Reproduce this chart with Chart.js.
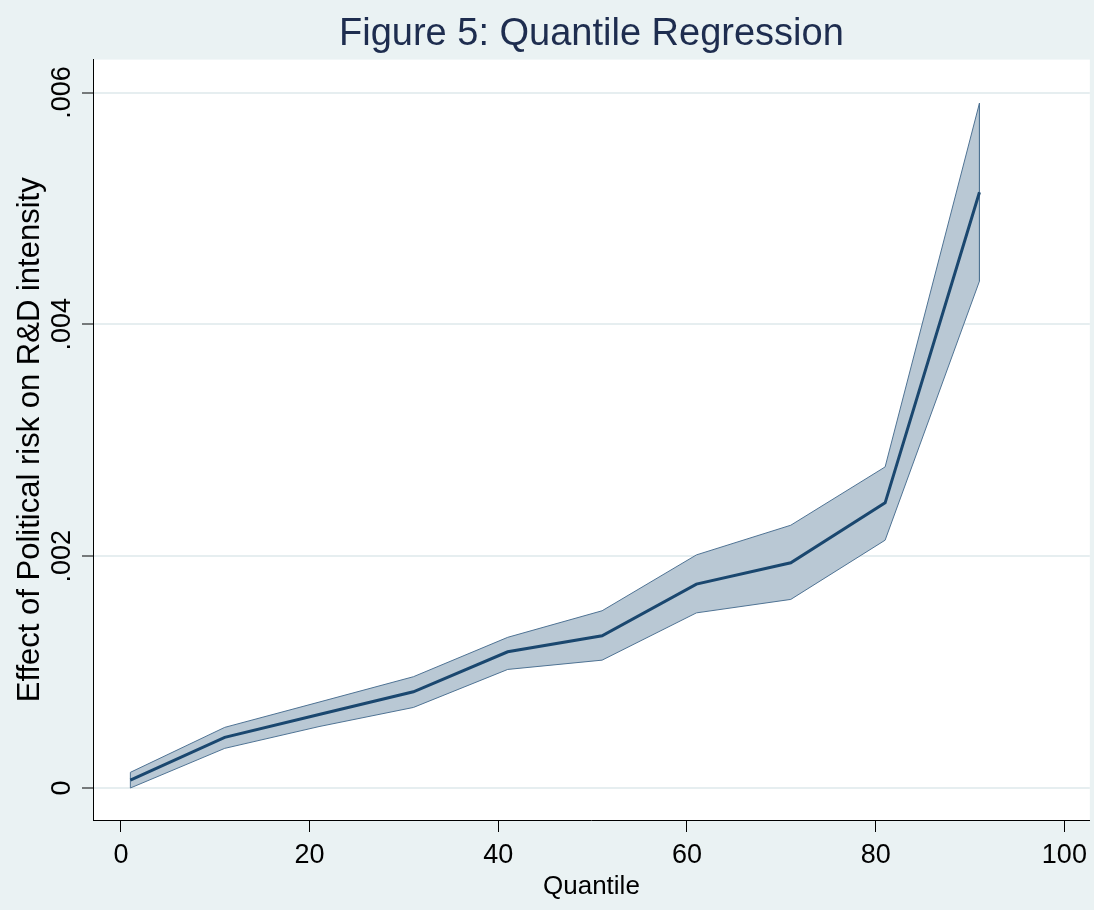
<!DOCTYPE html>
<html>
<head>
<meta charset="utf-8">
<script src="https://cdn.jsdelivr.net/npm/chart.js@4.4.1/dist/chart.umd.min.js"></script>
<style>
  body { margin: 0; background: #eaf2f3; }
  canvas { display: block; }
</style>
</head>
<body>
<canvas id="qrChart" width="1094" height="910"></canvas>
<script>
const quantiles = [1, 11, 21, 31, 41, 51, 61, 71, 81, 91];
const estimate = [0.000069, 0.000437, 0.000634, 0.00083, 0.001175, 0.001313, 0.001759, 0.001943, 0.00246, 0.00514];
const upperCI = [0.000135, 0.000523, 0.000741, 0.00096, 0.0013, 0.001529, 0.002011, 0.002267, 0.00277, 0.005908];
const lowerCI = [0.0, 0.000342, 0.00053, 0.000695, 0.001023, 0.001103, 0.001511, 0.001627, 0.002138, 0.004373];

const xTicks = [0, 20, 40, 60, 80, 100];
const yTickValues = [0, 0.002, 0.004, 0.006];
const yTickLabels = ["0", ".002", ".004", ".006"];

const fontFamily = "'Liberation Sans', Arial, sans-serif";

// band polygon: upper forward, lower backward, closed
const bandPoints = quantiles
  .map((q, i) => ({ x: q, y: upperCI[i] }))
  .concat(quantiles.map((q, i) => ({ x: q, y: lowerCI[i] })).reverse());
bandPoints.push(bandPoints[0]);

const background = {
  id: "background",
  beforeDraw(chart) {
    const { ctx, chartArea } = chart;
    ctx.save();
    ctx.fillStyle = "#eaf2f3";
    ctx.fillRect(0, 0, chart.width, chart.height);
    ctx.fillStyle = "#ffffff";
    ctx.fillRect(chartArea.left, chartArea.top, chartArea.right - chartArea.left, chartArea.bottom - chartArea.top);
    ctx.restore();
  },
};

new Chart(document.getElementById("qrChart").getContext("2d"), {
  type: "line",
  data: {
    datasets: [
      {
        label: "Estimate",
        data: quantiles.map((q, i) => ({ x: q, y: estimate[i] })),
        borderColor: "#1a476f",
        borderWidth: 3,
        pointRadius: 0,
        tension: 0,
        fill: false,
        order: 0,
      },
      {
        label: "95% CI",
        data: bandPoints,
        borderColor: "#4f7394",
        borderWidth: 1,
        backgroundColor: "rgb(185, 200, 212)",
        pointRadius: 0,
        tension: 0,
        fill: "shape",
        order: 1,
      },
    ],
  },
  options: {
    responsive: false,
    animation: false,
    layout: { padding: { left: 0, right: 2, top: 0, bottom: 0 } },
    plugins: {
      legend: { display: false },
      tooltip: { enabled: false },
      title: {
        display: true,
        fullSize: false,
        text: "Figure 5: Quantile Regression",
        color: "#1e2d4f",
        font: { family: fontFamily, size: 38, weight: "normal" },
        padding: { top: 12, bottom: 2 },
      },
    },
    scales: {
      x: {
        type: "linear",
        min: -2.96,
        max: 102.7,
        afterBuildTicks: (s) => { s.ticks = xTicks.map((v) => ({ value: v })); },
        afterFit: (s) => { s.height = 90; },
        border: { display: true, color: "#000", width: 1 },
        grid: { drawOnChartArea: false, drawTicks: true, tickLength: 12, tickColor: "#000", tickWidth: 1 },
        ticks: {
          color: "#000",
          padding: 7,
          maxRotation: 0,
          autoSkip: false,
          font: { family: fontFamily, size: 27 },
        },
        title: {
          display: true,
          text: "Quantile",
          color: "#000",
          font: { family: fontFamily, size: 26 },
          padding: { top: 0, bottom: 8 },
        },
      },
      y: {
        type: "linear",
        min: -0.000276,
        max: 0.006284,
        afterBuildTicks: (s) => { s.ticks = yTickValues.map((v) => ({ value: v })); },
        afterFit: (s) => { s.width = 93; },
        border: { display: true, color: "#000", width: 1 },
        grid: { color: "#e6eef0", lineWidth: 2, drawTicks: true, tickLength: 11, tickColor: "#000", tickWidth: 1 },
        ticks: {
          color: "#000",
          minRotation: 90,
          maxRotation: 90,
          crossAlign: "center",
          padding: -7,
          autoSkip: false,
          font: { family: fontFamily, size: 27 },
          callback: (v) => yTickLabels[yTickValues.indexOf(v)],
        },
        title: {
          display: true,
          text: "Effect of Political risk on R&D intensity",
          color: "#000",
          font: { family: fontFamily, size: 31 },
          padding: { top: 12, bottom: 0 },
        },
      },
    },
  },
  plugins: [background],
});
</script>
</body>
</html>
